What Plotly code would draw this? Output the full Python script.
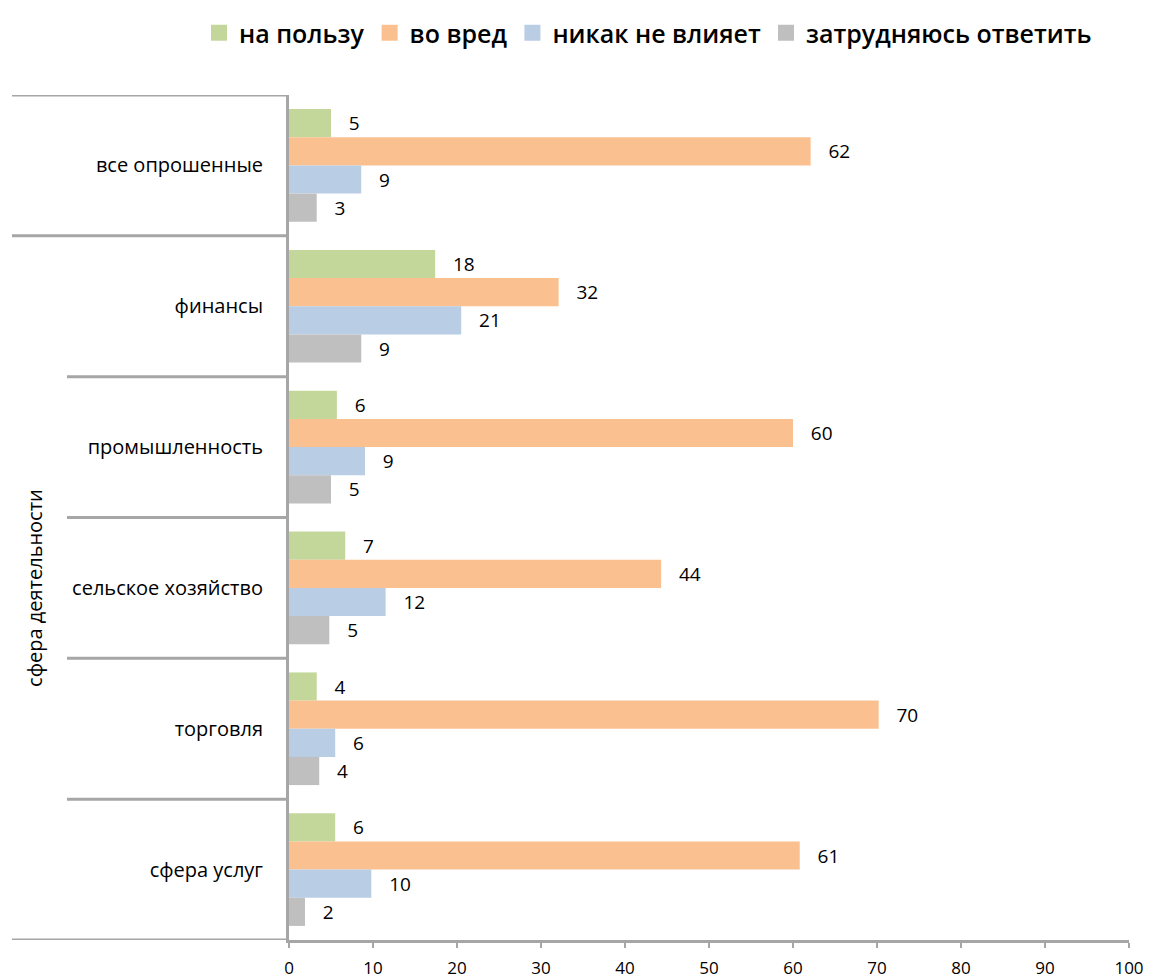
import plotly.graph_objects as go

categories = ["все опрошенные", "финансы", "промышленность",
              "сельское хозяйство", "торговля", "сфера услуг"]
outer_label = "сфера деятельности"

series_names = ["на пользу", "во вред", "никак не влияет", "затрудняюсь ответить"]

# bar lengths
benefit = [5.0, 17.4, 5.7, 6.7, 3.3, 5.5]
harm = [62.1, 32.1, 60.0, 44.3, 70.2, 60.8]
no_effect = [8.6, 20.5, 9.05, 11.5, 5.5, 9.8]
hard_to_say = [3.3, 8.6, 5.0, 4.8, 3.6, 1.9]

# data labels as printed on the chart
benefit_lbl = [5, 18, 6, 7, 4, 6]
harm_lbl = [62, 32, 60, 44, 70, 61]
no_effect_lbl = [9, 21, 9, 12, 6, 10]
hard_to_say_lbl = [3, 9, 5, 5, 4, 2]

x_ticks = [0, 10, 20, 30, 40, 50, 60, 70, 80, 90, 100]

colors = ["#C4D79B", "#FAC090", "#B9CDE5", "#BFBFBF"]
values = [benefit, harm, no_effect, hard_to_say]
labels = [benefit_lbl, harm_lbl, no_effect_lbl, hard_to_say_lbl]

FONT = "Open Sans, DejaVu Sans, sans-serif"
GREY = "#A6A6A6"
NB = "\u00a0"

fig = go.Figure()
for name, vals, lbls, col in zip(series_names, values, labels, colors):
    fig.add_trace(go.Bar(
        y=categories, x=vals, orientation="h", name=name,
        marker=dict(color=col, line=dict(width=0)),
        text=[NB * 3 + str(l) for l in lbls],
        textposition="outside", cliponaxis=False,
        textfont=dict(family=FONT, size=19, color="black"),
        showlegend=False, legendgroup=name, hoverinfo="x+y",
    ))
# legend entries with larger square swatches
for name, col in zip(series_names, colors):
    fig.add_trace(go.Scatter(
        x=[None], y=[None], mode="markers", name=name, legendgroup=name,
        marker=dict(symbol="square", size=20, color=col),
        showlegend=True,
    ))

L, R, T, B = 289, 20, 95, 38
W, H = 1149, 978
pw = W - L - R


def px2paper(px):
    return (px - L) / pw


shapes = []
n = len(categories)
for i in range(n + 1):
    yb = i - 0.5
    start = 12 if i in (0, 1, n) else 67
    shapes.append(dict(type="line", xref="paper", yref="y",
                       x0=px2paper(start), x1=0, y0=yb, y1=yb,
                       line=dict(color=GREY, width=3)))

fig.update_layout(
    width=W, height=H,
    margin=dict(l=L, r=R, t=T, b=B, autoexpand=False),
    paper_bgcolor="white", plot_bgcolor="white",
    barmode="group", bargap=0.2, bargroupgap=0,
    font=dict(family=FONT, color="black"),
    shapes=shapes,
    legend=dict(orientation="h", x=px2paper(199), xanchor="left",
                y=1 + (T - 33) / (H - T - B), yanchor="middle",
                font=dict(family=FONT, size=25, color="black", weight=600),
                tracegroupgap=0),
    xaxis=dict(range=[0, 100], tickvals=x_ticks, ticks="outside", ticklen=5,
               tickwidth=2, tickcolor=GREY, showline=True, linewidth=3,
               linecolor=GREY, showgrid=False, zeroline=False, automargin=False,
               ticklabelstandoff=6,
               tickfont=dict(family=FONT, size=17, color="black")),
    yaxis=dict(type="category", categoryorder="array", categoryarray=categories,
               range=[n - 0.5, -0.5], showline=True, linewidth=3,
               linecolor=GREY, showgrid=False, zeroline=False, ticks="",
               ticklabelstandoff=19, automargin=False,
               tickfont=dict(family=FONT, size=20, color="black")),
    annotations=[dict(text=outer_label, xref="paper", yref="y",
                      x=px2paper(35), y=3, xanchor="center", yanchor="middle",
                      textangle=-90, showarrow=False,
                      font=dict(family=FONT, size=20, color="black"))],
)

fig.write_html("out.html", config={"displayModeBar": False},
               post_script="document.body.style.margin='0';")
